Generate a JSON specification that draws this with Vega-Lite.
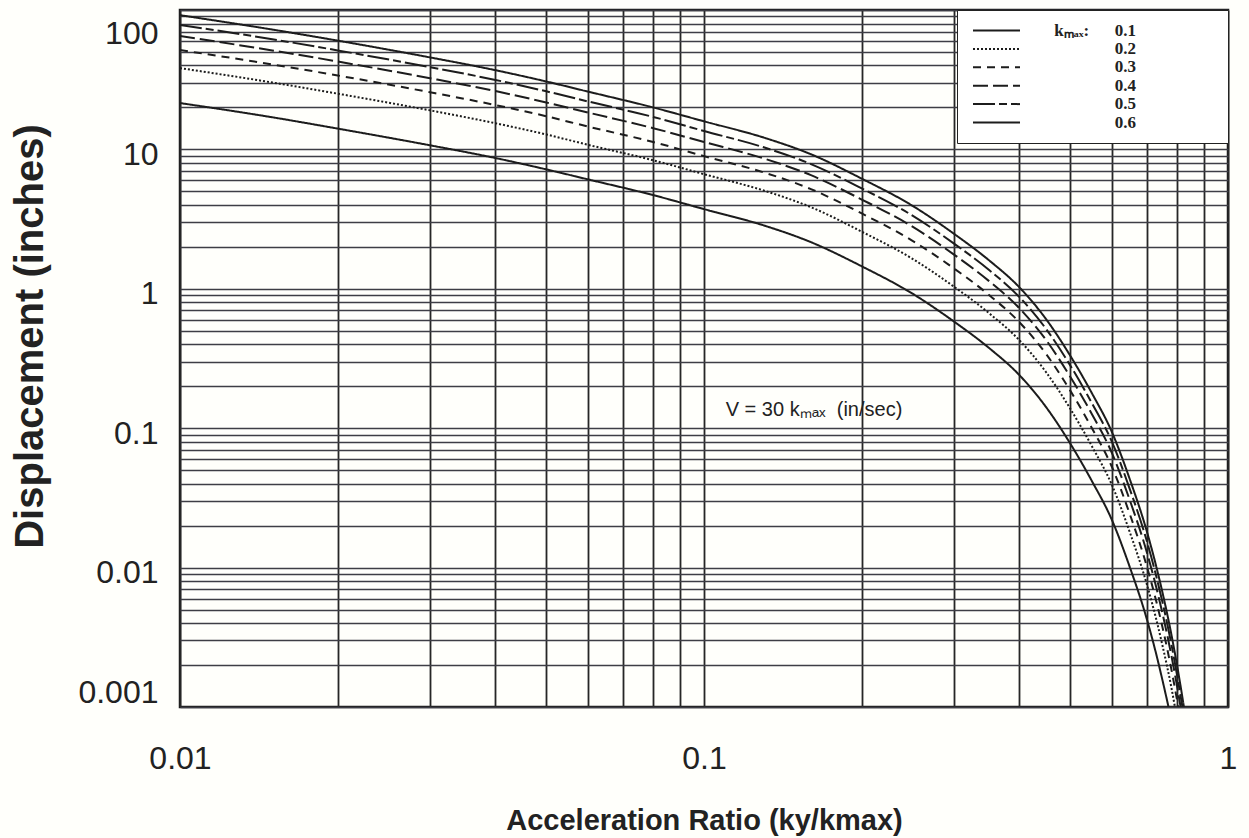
{
  "$schema": "https://vega.github.io/schema/vega-lite/v6.json",
  "width": 1048,
  "height": 697,
  "autosize": {"type": "none"},
  "padding": {"left": 180, "top": 10, "right": 21, "bottom": 131},
  "background": "#fffffb",
  "config": {
    "view": {"stroke": "#1c1c1c", "strokeWidth": 2.5},
    "font": "Liberation Sans"
  },
  "datasets": {
    "curves": [
      {"kmax":"0.1","ratio":0.01,"disp":21.5},{"kmax":"0.1","ratio":0.015,"disp":17.0},{"kmax":"0.1","ratio":0.02,"disp":14.1},{"kmax":"0.1","ratio":0.03,"disp":10.7},{"kmax":"0.1","ratio":0.04,"disp":8.67},{"kmax":"0.1","ratio":0.05,"disp":7.19},{"kmax":"0.1","ratio":0.06,"disp":6.10},{"kmax":"0.1","ratio":0.08,"disp":4.70},{"kmax":"0.1","ratio":0.1,"disp":3.73},{"kmax":"0.1","ratio":0.13,"disp":2.85},{"kmax":"0.1","ratio":0.16,"disp":2.16},{"kmax":"0.1","ratio":0.2,"disp":1.45},{"kmax":"0.1","ratio":0.25,"disp":0.923},{"kmax":"0.1","ratio":0.3,"disp":0.582},{"kmax":"0.1","ratio":0.35,"disp":0.376},{"kmax":"0.1","ratio":0.4,"disp":0.240},{"kmax":"0.1","ratio":0.45,"disp":0.141},{"kmax":"0.1","ratio":0.5,"disp":0.0776},{"kmax":"0.1","ratio":0.55,"disp":0.0417},{"kmax":"0.1","ratio":0.6,"disp":0.0221},{"kmax":"0.1","ratio":0.65,"disp":0.0100},{"kmax":"0.1","ratio":0.7,"disp":0.00427},{"kmax":"0.1","ratio":0.73,"disp":0.00237},{"kmax":"0.1","ratio":0.75,"disp":0.00155},{"kmax":"0.1","ratio":0.77,"disp":0.001},
      {"kmax":"0.2","ratio":0.01,"disp":38.3},{"kmax":"0.2","ratio":0.015,"disp":30.2},{"kmax":"0.2","ratio":0.02,"disp":25.1},{"kmax":"0.2","ratio":0.03,"disp":19.05},{"kmax":"0.2","ratio":0.04,"disp":15.4},{"kmax":"0.2","ratio":0.05,"disp":12.8},{"kmax":"0.2","ratio":0.06,"disp":10.8},{"kmax":"0.2","ratio":0.08,"disp":8.36},{"kmax":"0.2","ratio":0.1,"disp":6.64},{"kmax":"0.2","ratio":0.13,"disp":5.07},{"kmax":"0.2","ratio":0.16,"disp":3.85},{"kmax":"0.2","ratio":0.2,"disp":2.57},{"kmax":"0.2","ratio":0.25,"disp":1.64},{"kmax":"0.2","ratio":0.3,"disp":1.035},{"kmax":"0.2","ratio":0.35,"disp":0.668},{"kmax":"0.2","ratio":0.4,"disp":0.427},{"kmax":"0.2","ratio":0.45,"disp":0.251},{"kmax":"0.2","ratio":0.5,"disp":0.138},{"kmax":"0.2","ratio":0.55,"disp":0.0741},{"kmax":"0.2","ratio":0.6,"disp":0.0394},{"kmax":"0.2","ratio":0.65,"disp":0.0178},{"kmax":"0.2","ratio":0.7,"disp":0.00759},{"kmax":"0.2","ratio":0.73,"disp":0.00422},{"kmax":"0.2","ratio":0.75,"disp":0.00275},{"kmax":"0.2","ratio":0.78,"disp":0.00137},{"kmax":"0.2","ratio":0.792,"disp":0.001},
      {"kmax":"0.3","ratio":0.01,"disp":51.6},{"kmax":"0.3","ratio":0.015,"disp":40.7},{"kmax":"0.3","ratio":0.02,"disp":33.9},{"kmax":"0.3","ratio":0.03,"disp":25.7},{"kmax":"0.3","ratio":0.04,"disp":20.8},{"kmax":"0.3","ratio":0.05,"disp":17.3},{"kmax":"0.3","ratio":0.06,"disp":14.6},{"kmax":"0.3","ratio":0.08,"disp":11.3},{"kmax":"0.3","ratio":0.1,"disp":8.95},{"kmax":"0.3","ratio":0.13,"disp":6.84},{"kmax":"0.3","ratio":0.16,"disp":5.19},{"kmax":"0.3","ratio":0.2,"disp":3.47},{"kmax":"0.3","ratio":0.25,"disp":2.21},{"kmax":"0.3","ratio":0.3,"disp":1.40},{"kmax":"0.3","ratio":0.35,"disp":0.902},{"kmax":"0.3","ratio":0.4,"disp":0.575},{"kmax":"0.3","ratio":0.45,"disp":0.339},{"kmax":"0.3","ratio":0.5,"disp":0.186},{"kmax":"0.3","ratio":0.55,"disp":0.100},{"kmax":"0.3","ratio":0.6,"disp":0.0531},{"kmax":"0.3","ratio":0.65,"disp":0.0240},{"kmax":"0.3","ratio":0.7,"disp":0.0102},{"kmax":"0.3","ratio":0.73,"disp":0.00569},{"kmax":"0.3","ratio":0.75,"disp":0.00372},{"kmax":"0.3","ratio":0.78,"disp":0.00185},{"kmax":"0.3","ratio":0.8,"disp":0.0011},{"kmax":"0.3","ratio":0.8035,"disp":0.001},
      {"kmax":"0.4","ratio":0.01,"disp":65.0},{"kmax":"0.4","ratio":0.015,"disp":51.3},{"kmax":"0.4","ratio":0.02,"disp":42.7},{"kmax":"0.4","ratio":0.03,"disp":32.4},{"kmax":"0.4","ratio":0.04,"disp":26.2},{"kmax":"0.4","ratio":0.05,"disp":21.7},{"kmax":"0.4","ratio":0.06,"disp":18.4},{"kmax":"0.4","ratio":0.08,"disp":14.2},{"kmax":"0.4","ratio":0.1,"disp":11.3},{"kmax":"0.4","ratio":0.13,"disp":8.61},{"kmax":"0.4","ratio":0.16,"disp":6.53},{"kmax":"0.4","ratio":0.2,"disp":4.37},{"kmax":"0.4","ratio":0.25,"disp":2.79},{"kmax":"0.4","ratio":0.3,"disp":1.76},{"kmax":"0.4","ratio":0.35,"disp":1.135},{"kmax":"0.4","ratio":0.4,"disp":0.724},{"kmax":"0.4","ratio":0.45,"disp":0.427},{"kmax":"0.4","ratio":0.5,"disp":0.234},{"kmax":"0.4","ratio":0.55,"disp":0.126},{"kmax":"0.4","ratio":0.6,"disp":0.0668},{"kmax":"0.4","ratio":0.65,"disp":0.0302},{"kmax":"0.4","ratio":0.7,"disp":0.0129},{"kmax":"0.4","ratio":0.73,"disp":0.00716},{"kmax":"0.4","ratio":0.75,"disp":0.00468},{"kmax":"0.4","ratio":0.78,"disp":0.00233},{"kmax":"0.4","ratio":0.8,"disp":0.00139},{"kmax":"0.4","ratio":0.812,"disp":0.001},
      {"kmax":"0.5","ratio":0.01,"disp":78.2},{"kmax":"0.5","ratio":0.015,"disp":61.7},{"kmax":"0.5","ratio":0.02,"disp":51.3},{"kmax":"0.5","ratio":0.03,"disp":38.9},{"kmax":"0.5","ratio":0.04,"disp":31.5},{"kmax":"0.5","ratio":0.05,"disp":26.1},{"kmax":"0.5","ratio":0.06,"disp":22.1},{"kmax":"0.5","ratio":0.08,"disp":17.1},{"kmax":"0.5","ratio":0.1,"disp":13.55},{"kmax":"0.5","ratio":0.13,"disp":10.35},{"kmax":"0.5","ratio":0.16,"disp":7.85},{"kmax":"0.5","ratio":0.2,"disp":5.25},{"kmax":"0.5","ratio":0.25,"disp":3.35},{"kmax":"0.5","ratio":0.3,"disp":2.11},{"kmax":"0.5","ratio":0.35,"disp":1.365},{"kmax":"0.5","ratio":0.4,"disp":0.871},{"kmax":"0.5","ratio":0.45,"disp":0.513},{"kmax":"0.5","ratio":0.5,"disp":0.282},{"kmax":"0.5","ratio":0.55,"disp":0.151},{"kmax":"0.5","ratio":0.6,"disp":0.0804},{"kmax":"0.5","ratio":0.65,"disp":0.0363},{"kmax":"0.5","ratio":0.7,"disp":0.0155},{"kmax":"0.5","ratio":0.73,"disp":0.00861},{"kmax":"0.5","ratio":0.75,"disp":0.00562},{"kmax":"0.5","ratio":0.78,"disp":0.0028},{"kmax":"0.5","ratio":0.8,"disp":0.00167},{"kmax":"0.5","ratio":0.81,"disp":0.00127},{"kmax":"0.5","ratio":0.8185,"disp":0.001},
      {"kmax":"0.6","ratio":0.01,"disp":91.8},{"kmax":"0.6","ratio":0.015,"disp":72.4},{"kmax":"0.6","ratio":0.02,"disp":60.3},{"kmax":"0.6","ratio":0.03,"disp":45.7},{"kmax":"0.6","ratio":0.04,"disp":37.0},{"kmax":"0.6","ratio":0.05,"disp":30.7},{"kmax":"0.6","ratio":0.06,"disp":26.0},{"kmax":"0.6","ratio":0.08,"disp":20.0},{"kmax":"0.6","ratio":0.1,"disp":15.9},{"kmax":"0.6","ratio":0.13,"disp":12.16},{"kmax":"0.6","ratio":0.16,"disp":9.23},{"kmax":"0.6","ratio":0.2,"disp":6.17},{"kmax":"0.6","ratio":0.25,"disp":3.94},{"kmax":"0.6","ratio":0.3,"disp":2.48},{"kmax":"0.6","ratio":0.35,"disp":1.60},{"kmax":"0.6","ratio":0.4,"disp":1.023},{"kmax":"0.6","ratio":0.45,"disp":0.603},{"kmax":"0.6","ratio":0.5,"disp":0.331},{"kmax":"0.6","ratio":0.55,"disp":0.178},{"kmax":"0.6","ratio":0.6,"disp":0.0944},{"kmax":"0.6","ratio":0.65,"disp":0.0427},{"kmax":"0.6","ratio":0.7,"disp":0.0182},{"kmax":"0.6","ratio":0.73,"disp":0.0101},{"kmax":"0.6","ratio":0.75,"disp":0.0066},{"kmax":"0.6","ratio":0.78,"disp":0.00329},{"kmax":"0.6","ratio":0.8,"disp":0.00196},{"kmax":"0.6","ratio":0.81,"disp":0.00149},{"kmax":"0.6","ratio":0.82,"disp":0.00112},{"kmax":"0.6","ratio":0.824,"disp":0.001}
    ],
    "note": [
      {"ratio": 0.11, "disp": 0.135, "label": "V = 30 kₘₐₓ\u00a0\u00a0(in/sec)"}
    ]
  },
  "layer": [
    {
      "data": {"name": "curves"},
      "mark": {"type": "line", "color": "#1c1c1c", "strokeWidth": 2, "interpolate": "monotone", "clip": true},
      "encoding": {
        "x": {
          "field": "ratio", "type": "quantitative",
          "scale": {"type": "log", "domain": [0.01, 1]},
          "axis": {
            "values": [0.01,0.02,0.03,0.04,0.05,0.06,0.07,0.08,0.09,0.1,0.2,0.3,0.4,0.5,0.6,0.7,0.8,0.9,1],
            "labelExpr": "abs(log(datum.value)/LN10 - round(log(datum.value)/LN10)) < 0.000001 ? format(datum.value, '~g') : ''",
            "grid": true, "gridColor": "#262626", "gridWidth": 1.8,
            "ticks": false, "domain": false,
            "labelOverlap": false, "labelBound": false, "labelFlush": false,
            "labelFontSize": 32, "labelColor": "#222222", "labelPadding": 36,
            "title": "Acceleration Ratio (ky/kmax)",
            "titleFontSize": 29, "titleFontWeight": "bold", "titleColor": "#222222",
            "titleY": 113, "titleBaseline": "middle"
          }
        },
        "y": {
          "field": "disp", "type": "quantitative",
          "scale": {"type": "log", "domain": [0.001, 100]},
          "axis": {
            "values": [0.001,0.002,0.003,0.004,0.005,0.006,0.007,0.008,0.009,0.01,0.02,0.03,0.04,0.05,0.06,0.07,0.08,0.09,0.1,0.2,0.3,0.4,0.5,0.6,0.7,0.8,0.9,1,2,3,4,5,6,7,8,9,10,20,30,40,50,60,70,80,90,100],
            "labelExpr": "abs(log(datum.value)/LN10 - round(log(datum.value)/LN10)) < 0.000001 ? format(datum.value, '~g') : ''",
            "grid": true, "gridColor": "#3d3d45", "gridWidth": 1.4,
            "ticks": false, "domain": false,
            "labelOverlap": false, "labelBound": false,
            "labelFlush": true, "labelFlushOffset": -3, "labelOffset": 5,
            "labelFontSize": 32, "labelColor": "#222222", "labelPadding": 22,
            "title": "Displacement (inches)",
            "titleFontSize": 40, "titleFontWeight": "bold", "titleColor": "#222222",
            "titleX": -150, "titleY": 326, "titleBaseline": "middle", "titleAlign": "center"
          }
        },
        "strokeDash": {
          "field": "kmax", "type": "nominal",
          "scale": {"domain": ["0.1","0.2","0.3","0.4","0.5","0.6"], "range": [[1,0],[2,2],[8,6],[15,5],[22,4,8,4],[1,0]]},
          "legend": {
            "title": null,
            "orient": "top-right", "offset": 0,
            "padding": 12,
            "fillColor": "white", "strokeColor": "#222222",
            "symbolType": "M-0.9,0H8.5", "symbolSize": 100,
            "symbolStrokeWidth": 2, "symbolStrokeColor": "#1c1c1c",
            "labelOffset": 230, "labelAlign": "right", "labelLimit": 400,
            "labelFont": "Liberation Serif", "labelFontSize": 17, "labelFontWeight": "bold", "labelColor": "#222222",
            "rowPadding": 0.4,
            "labelExpr": "(datum.label == '0.1' ? 'kₘₐₓ:\u00a0\u00a0\u00a0\u00a0\u00a0\u00a0' : '') + datum.label + '\u00a0\u00a0\u00a0\u00a0\u00a0\u00a0\u00a0\u00a0\u00a0\u00a0\u00a0\u00a0\u00a0\u00a0\u00a0\u00a0\u2800'"
          }
        }
      }
    },
    {
      "data": {"name": "note"},
      "mark": {"type": "text", "align": "left", "baseline": "middle", "fontSize": 20, "font": "Liberation Sans", "color": "#222222"},
      "encoding": {
        "x": {"field": "ratio", "type": "quantitative"},
        "y": {"field": "disp", "type": "quantitative"},
        "text": {"field": "label"}
      }
    }
  ]
}
